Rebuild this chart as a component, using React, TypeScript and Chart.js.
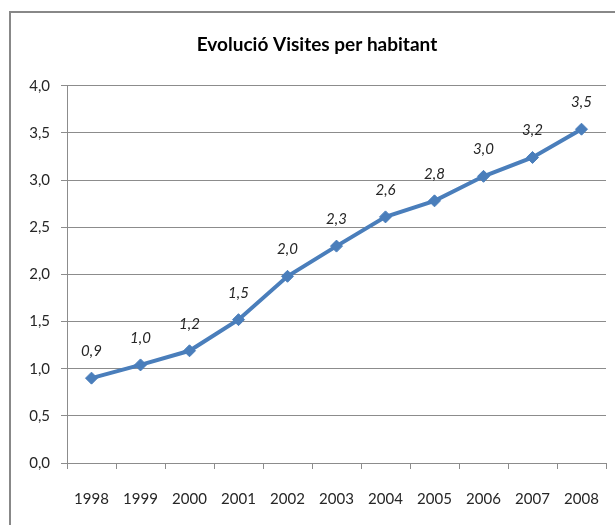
import React, { useEffect, useRef } from "react";
import { Chart, registerables } from "chart.js";

Chart.register(...registerables);

const TITLE = "Evolució Visites per habitant";
const years = ["1998", "1999", "2000", "2001", "2002", "2003", "2004", "2005", "2006", "2007", "2008"];
const visits = [0.9, 1.04, 1.19, 1.52, 1.98, 2.3, 2.61, 2.78, 3.04, 3.24, 3.54];
const yMin = 0;
const yMax = 4;
const yStep = 0.5;

const FONT = "Lato, 'Open Sans', sans-serif";
const LINE_COLOR = "#4A7EBB";
const GRID_COLOR = "#8c8c8c";

const fmt = (v: number) => v.toFixed(1).replace(".", ",");

const dataLabelPlugin = {
  id: "dataLabels",
  afterDatasetsDraw(chart: any) {
    const ctx = chart.ctx;
    const meta = chart.getDatasetMeta(0);
    const ds = chart.data.datasets[0];
    ctx.save();
    ctx.font = `italic 15px ${FONT}`;
    ctx.fillStyle = "#262626";
    ctx.textAlign = "center";
    ctx.textBaseline = "middle";
    meta.data.forEach((pt: any, i: number) => {
      ctx.fillText(fmt(ds.data[i] as number), pt.x, pt.y - 27);
    });
    ctx.restore();
  },
};

export default function App() {
  const ref = useRef<HTMLCanvasElement | null>(null);
  useEffect(() => {
    if (!ref.current) return;
    const chart = new Chart(ref.current, {
      type: "line",
      data: {
        labels: years,
        datasets: [
          {
            data: visits,
            borderColor: LINE_COLOR,
            backgroundColor: LINE_COLOR,
            borderWidth: 4,
            pointStyle: "rectRot",
            pointRadius: 6,
            pointBorderWidth: 1,
            pointBackgroundColor: LINE_COLOR,
            pointBorderColor: LINE_COLOR,
            tension: 0,
          },
        ],
      },
      options: {
        animation: false,
        responsive: false,
        layout: { padding: { left: 28, right: 9, top: 12, bottom: 0 } },
        plugins: {
          legend: { display: false },
          tooltip: { enabled: false },
          title: {
            display: true,
            text: TITLE,
            color: "#000",
            font: { family: FONT, size: 19, weight: "bold" },
            padding: { top: 21, bottom: 30 },
          },
        },
        scales: {
          x: {
            offset: true,
            grid: {
              offset: true,
              drawOnChartArea: false,
              drawTicks: true,
              tickLength: 6,
              color: GRID_COLOR,
            },
            border: { display: true, color: GRID_COLOR },
            ticks: {
              color: "#262626",
              font: { family: FONT, size: 15 },
              padding: 21,
              maxRotation: 0,
            },
            afterFit(scale: any) {
              scale.height = 62;
              scale.paddingLeft = 0;
              scale.paddingRight = 0;
            },
          },
          y: {
            min: yMin,
            max: yMax,
            grid: { color: GRID_COLOR, drawTicks: true, tickLength: 6 },
            border: { display: true, color: GRID_COLOR },
            ticks: {
              stepSize: yStep,
              color: "#262626",
              font: { family: FONT, size: 15 },
              padding: 11,
              callback: (v: any) => fmt(Number(v)),
            },
            afterFit(scale: any) {
              scale.width = 39;
            },
          },
        },
      },
      plugins: [dataLabelPlugin],
    });
    return () => chart.destroy();
  }, []);

  return (
    <div
      style={{
        position: "fixed",
        left: 0,
        top: 0,
        width: 615,
        height: 525,
        overflow: "hidden",
        background: "#fff",
      }}
    >
      <div
        style={{
          position: "absolute",
          left: 9,
          top: 11,
          width: 700,
          height: 700,
          border: "2px solid #888",
        }}
      />
      <canvas ref={ref} width={615} height={525} style={{ position: "absolute", left: 0, top: 0 }} />
    </div>
  );
}
